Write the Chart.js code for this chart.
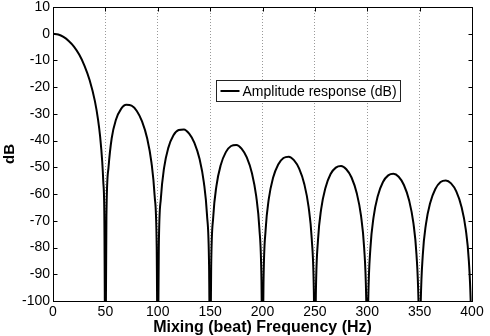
<!DOCTYPE html>
<html>
<head>
<meta charset="utf-8">
<script src="https://cdn.jsdelivr.net/npm/chart.js"></script>
<style>
    html, body { margin: 0; padding: 0; background: #fff; }
    canvas { display: block; }
</style>
</head>
<body>
<canvas id="responseChart" width="490" height="336"></canvas>
<script>
/* ======================
   DATA
   ====================== */

// Frequency samples (Hz), one row per lobe
const freqHz = [
    0, 5, 10, 15, 20, 25, 30, 35, 40, 43, 45, 47, 48, 49, 50,
    51, 53, 56, 60, 65, 70, 75, 80, 85, 90, 94, 97, 99, 100,
    101, 103, 106, 110, 115, 120, 125, 130, 135, 140, 144, 147, 149, 150,
    151, 153, 156, 160, 165, 170, 175, 180, 185, 190, 194, 197, 199, 200,
    201, 203, 206, 210, 215, 220, 225, 230, 235, 240, 244, 247, 249, 250,
    251, 253, 256, 260, 265, 270, 275, 280, 285, 290, 294, 297, 299, 300,
    301, 303, 306, 310, 315, 320, 325, 330, 335, 340, 344, 347, 349, 350,
    351, 353, 356, 360, 365, 370, 375, 380, 385, 390, 394, 397, 399, 400
];

// Amplitude response (dB) (nulls run below the axis)
const responseDb = [
    0, -0.3, -1.2, -2.7, -4.8, -7.8, -11.9, -17.4, -25.2, -32.1, -38.5, -47.9, -55.3, -67.6, -130,
    -68.3, -50.0, -39.2, -32.3, -28.1, -26.6, -26.9, -28.9, -32.8, -39.3, -48.2, -60.5, -79.8, -130,
    -80.2, -61.5, -50.3, -42.8, -38.0, -36.0, -35.8, -37.4, -40.8, -47.0, -55.6, -67.7, -86.9, -130,
    -87.2, -68.4, -57.0, -49.3, -44.3, -42.0, -41.6, -43.0, -46.3, -52.3, -60.8, -72.8, -92.0, -130,
    -92.1, -73.3, -61.8, -54.0, -48.9, -46.5, -46.0, -47.3, -50.5, -56.4, -64.8, -76.7, -95.9, -130,
    -96.0, -77.1, -65.6, -57.8, -52.5, -50.1, -49.5, -50.7, -53.8, -59.7, -68.0, -79.9, -99.0, -130,
    -99.2, -80.3, -68.7, -60.8, -55.5, -53.0, -52.4, -53.5, -56.6, -62.4, -70.7, -82.6, -101.7, -130,
    -101.8, -82.9, -71.3, -63.4, -58.1, -55.5, -54.9, -56.0, -59.0, -64.8, -73.1, -85.0, -104.1, -130
];

const xTicks = [0, 50, 100, 150, 200, 250, 300, 350, 400];
const yTicks = [10, 0, -10, -20, -30, -40, -50, -60, -70, -80, -90, -100];

const seriesLabel = 'Amplitude response (dB)';
const xTitle = 'Mixing (beat) Frequency (Hz)';
const yTitle = 'dB';

/* ======================
   HELPERS
   ====================== */

const FONT = "'Liberation Sans', Arial, Helvetica, sans-serif";
const TICK_LEN = 4;

// Inward tick marks on all four sides, plot box and boxed legend
const matlabAxesPlugin = {
    id: 'matlabAxes',
    afterDatasetsDraw: (chart) => {
        const { ctx, chartArea: area, scales } = chart;
        const left = Math.round(area.left) + 0.5;
        const right = Math.round(area.right) + 0.5;
        const top = Math.round(area.top) + 0.5;
        const bottom = Math.round(area.bottom) + 0.5;

        ctx.save();
        ctx.strokeStyle = '#000';
        ctx.lineWidth = 1;
        ctx.setLineDash([]);

        ctx.beginPath();
        xTicks.forEach(v => {
            const px = Math.round(scales.x.getPixelForValue(v)) + 0.5;
            ctx.moveTo(px, bottom); ctx.lineTo(px, bottom - TICK_LEN);
            ctx.moveTo(px, top); ctx.lineTo(px, top + TICK_LEN);
        });
        yTicks.forEach(v => {
            const py = Math.round(scales.y.getPixelForValue(v)) + 0.5;
            ctx.moveTo(left, py); ctx.lineTo(left + TICK_LEN, py);
            ctx.moveTo(right, py); ctx.lineTo(right - TICK_LEN, py);
        });
        ctx.stroke();

        ctx.strokeRect(left, top, right - left, bottom - top);

        // Legend box
        ctx.font = `14px ${FONT}`;
        const label = chart.data.datasets[0].label;
        const textW = ctx.measureText(label).width;
        const boxX = Math.round(area.left + 163) + 0.5;
        const boxY = Math.round(area.top + 73) + 0.5;
        const boxW = Math.round(4 + 19 + 3 + textW + 4);
        const boxH = 21;
        ctx.fillStyle = '#fff';
        ctx.fillRect(boxX, boxY, boxW, boxH);
        ctx.strokeStyle = '#222';
        ctx.strokeRect(boxX, boxY, boxW, boxH);

        ctx.strokeStyle = '#000';
        ctx.lineWidth = 2;
        ctx.beginPath();
        ctx.moveTo(boxX + 4, boxY + boxH / 2);
        ctx.lineTo(boxX + 23, boxY + boxH / 2);
        ctx.stroke();

        ctx.fillStyle = '#000';
        ctx.textBaseline = 'middle';
        ctx.textAlign = 'left';
        ctx.fillText(label, boxX + 26, boxY + boxH / 2 + 1);
        ctx.restore();
    }
};

/* ======================
   CHART
   ====================== */

const buildChart = () => {
    const ctx = document.getElementById('responseChart').getContext('2d');
    const points = freqHz.map((f, i) => ({ x: f, y: responseDb[i] }));

    new Chart(ctx, {
        type: 'line',
        data: {
            datasets: [{
                label: seriesLabel,
                data: points,
                borderColor: '#000',
                borderWidth: 2,
                pointRadius: 0,
                fill: false,
                cubicInterpolationMode: 'monotone'
            }]
        },
        options: {
            responsive: false,
            animation: false,
            devicePixelRatio: 1,
            layout: { padding: { top: 7, right: 18, left: 0, bottom: 0 } },
            plugins: {
                legend: { display: false },
                tooltip: { enabled: false }
            },
            scales: {
                x: {
                    type: 'linear',
                    min: 0,
                    max: 400,
                    afterBuildTicks: (scale) => { scale.ticks = xTicks.map(v => ({ value: v })); },
                    afterFit: (scale) => {
                        // fixed height so the plot box sits where the original does
                        scale.height = 35;
                        scale.paddingLeft = 0;
                        scale.paddingRight = 0;
                    },
                    ticks: {
                        autoSkip: false,
                        maxRotation: 0,
                        color: '#000',
                        padding: 4,
                        font: { family: FONT, size: 14, lineHeight: 1 }
                    },
                    grid: {
                        drawTicks: false,
                        lineWidth: 1,
                        color: (c) => (c.tick && (c.tick.value === 0 || c.tick.value === 400)) ? 'rgba(0,0,0,0)' : '#999'
                    },
                    border: { display: false, dash: [1, 2] },
                    title: {
                        display: true,
                        text: xTitle,
                        color: '#000',
                        padding: { top: 0, bottom: 0 },
                        font: { family: FONT, size: 16, weight: 'bold', lineHeight: 1 }
                    }
                },
                y: {
                    type: 'linear',
                    min: -100,
                    max: 10,
                    afterBuildTicks: (scale) => { scale.ticks = yTicks.slice().reverse().map(v => ({ value: v })); },
                    afterFit: (scale) => {
                        scale.width = 53;
                        scale.paddingTop = 0;
                        scale.paddingBottom = 0;
                    },
                    ticks: {
                        autoSkip: false,
                        color: '#000',
                        padding: 3,
                        font: { family: FONT, size: 14, lineHeight: 1 }
                    },
                    grid: { display: false, drawTicks: false },
                    border: { display: false },
                    title: {
                        display: true,
                        text: yTitle,
                        color: '#000',
                        padding: { top: 1, bottom: 0 },
                        font: { family: FONT, size: 15, weight: 'bold' }
                    }
                }
            }
        },
        plugins: [matlabAxesPlugin]
    });
};

document.addEventListener('DOMContentLoaded', buildChart);
</script>
</body>
</html>
